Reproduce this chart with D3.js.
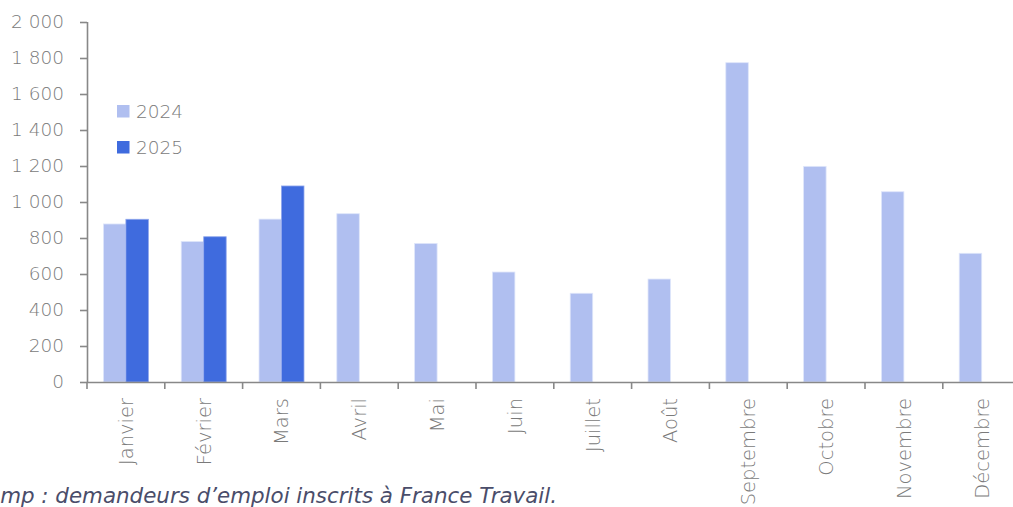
<!DOCTYPE html>
<html><head><meta charset="utf-8">
<script src="https://cdn.jsdelivr.net/npm/d3@7"></script>
<style>body{margin:0;background:#fff;}svg{display:block;}</style>
</head><body>
<svg id="c" width="1013" height="507"></svg>
<script>
const months = ["Janvier","Février","Mars","Avril","Mai","Juin","Juillet","Août","Septembre","Octobre","Novembre","Décembre"];
const series = ["2024","2025"];
const values2024 = [878, 781, 905, 935, 770, 611, 493, 572, 1774, 1198, 1057, 715];
const values2025 = [904, 807, 1089, null, null, null, null, null, null, null, null, null];
const yTicks = [0,200,400,600,800,1000,1200,1400,1600,1800,2000];
const colors = {"2024":"#b0bff0","2025":"#3f6bde"};
const note = "Champ : demandeurs d’emploi inscrits à France Travail.";

const svg = d3.select("#c");
const font = "'DejaVu Sans', sans-serif";
const x0 = d3.scaleBand().domain(months).range([87, 87 + 12*77.8]).padding(0);
const x1 = d3.scaleBand().domain(series).range([0, x0.bandwidth()]).paddingInner(0).paddingOuter(0.73);
const y = d3.scaleLinear().domain([0,2000]).range([382, 22]);

const data = months.map((m,i)=>({m, vals:[{s:"2024",v:values2024[i]},{s:"2025",v:values2025[i]}]}));
const g = svg.append("g");
g.selectAll("g.m").data(data).join("g").attr("transform",d=>`translate(${x0(d.m)},0)`)
 .selectAll("rect").data(d=>d.vals.filter(e=>e.v!=null)).join("rect")
 .attr("x",d=>x1(d.s)).attr("width",x1.bandwidth())
 .attr("y",d=>y(d.v)).attr("height",d=>y(0)-y(d.v))
 .attr("fill",d=>colors[d.s]).attr("stroke",d=>d.s==="2024"?"#dfe6fa":"#8fa6ec").attr("stroke-width",0.8);

// y axis
const yAxis = svg.append("g").attr("transform","translate(87,0)")
  .call(d3.axisLeft(y).tickValues(yTicks).tickSize(7).tickPadding(16)
  .tickFormat(d=>d3.format(",")(d).replace(/,/g," ")));
yAxis.select(".domain").attr("stroke","#888").attr("stroke-width",1.6).attr("d","M0.5,22V382");
yAxis.selectAll(".tick line").attr("stroke","#888").attr("stroke-width",1.6);
yAxis.selectAll(".tick text").attr("fill","#7a7a7a").attr("font-size","18.5px").attr("font-family",font).attr("font-weight",200);

// x axis
const xAxis = svg.append("g").attr("transform","translate(0,382)")
  .call(d3.axisBottom(x0).tickSize(0).tickPadding(0));
xAxis.select(".domain").attr("stroke","#888").attr("stroke-width",1.6).attr("d","M87,0.5H1013");
xAxis.selectAll(".tick text").attr("fill","#7a7a7a").attr("font-size","19.5px").attr("font-family",font).attr("font-weight",200)
  .attr("text-anchor","end").attr("transform","rotate(-90)").attr("x",-16).attr("y",0).attr("dy","0.35em");
// boundary ticks
svg.append("g").selectAll("line").data(d3.range(0,13)).join("line")
  .attr("x1",i=>87+i*x0.step()).attr("x2",i=>87+i*x0.step()).attr("y1",382).attr("y2",389)
  .attr("stroke","#888").attr("stroke-width",1.6);

// legend
const leg = svg.append("g").selectAll("g").data(series).join("g")
  .attr("transform",(d,i)=>`translate(117,${105+i*36})`);
leg.append("rect").attr("width",12.5).attr("height",12.5).attr("fill",d=>colors[d]);
leg.append("text").attr("x",19).attr("y",12.5).text(d=>d).attr("fill","#7a7a7a")
  .attr("font-size","18.5px").attr("font-family",font).attr("font-weight",200);

svg.append("text").attr("x",557).attr("y",503).attr("text-anchor","end").text(note)
  .attr("fill","#4a4d6a").attr("font-size","21.4px").attr("font-style","italic").attr("font-family",font);
</script>
</body></html>
